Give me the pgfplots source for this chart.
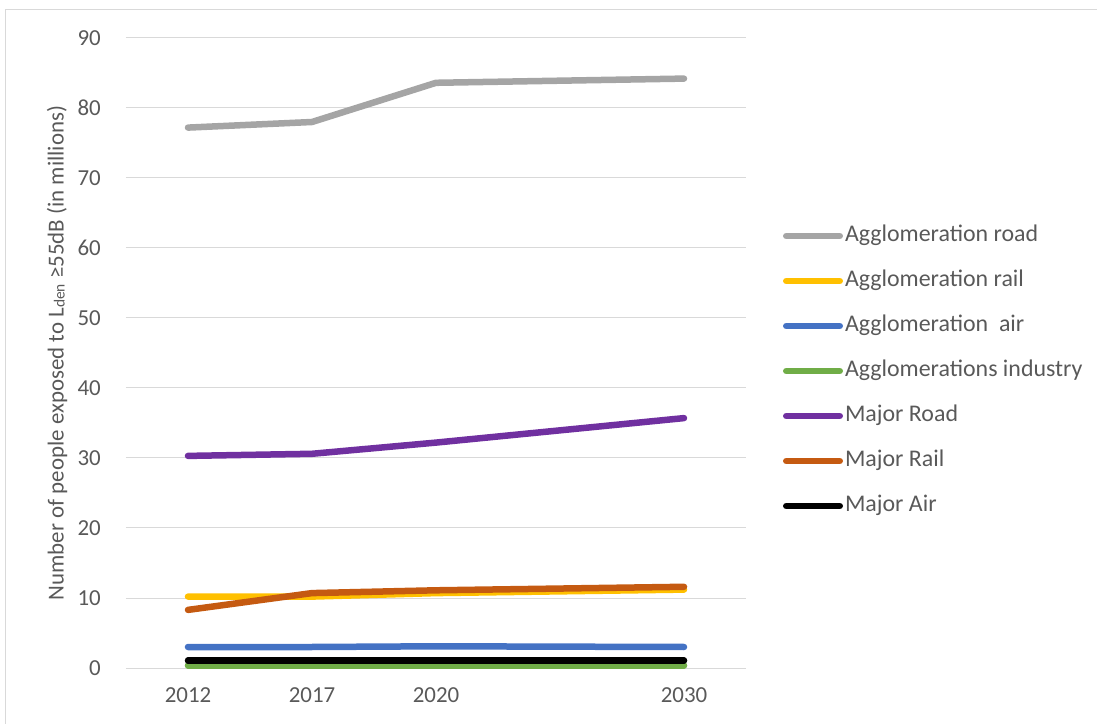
\documentclass[border=0pt]{standalone}
\usepackage{pgfplots}
\pgfplotsset{compat=1.18}
\usepackage{fontspec}
\setmainfont{Carlito}
\definecolor{txt}{HTML}{595959}
\definecolor{gridc}{HTML}{D9D9D9}
\definecolor{cgray}{HTML}{A5A5A5}
\definecolor{cyellow}{HTML}{FFC000}
\definecolor{cblue}{HTML}{4472C4}
\definecolor{cgreen}{HTML}{70AD47}
\definecolor{cpurple}{HTML}{7030A0}
\definecolor{corange}{HTML}{C55A11}
\begin{document}
\begin{tikzpicture}
\useasboundingbox (-126bp,-56bp) rectangle (971bp,668bp);
\draw[gridc, line width=1bp] (-120bp,-60bp) -- (-120bp,658.5bp) -- (975bp,658.5bp);
\begin{axis}[
  scale only axis, width=620bp, height=630bp,
  xmin=-0.5, xmax=4.5, ymin=0, ymax=90,
  xtick={0,1,2,4}, xticklabels={2012,2017,2020,2030},
  ytick distance=10,
  axis line style={draw=none},
  major tick length=0pt,
  xmajorgrids=false, ymajorgrids=true, grid style={draw=gridc, line width=1bp},
  /pgf/number format/assume math mode=true,
  every tick label/.append style={font=\fontsize{23}{26}\selectfont, text=txt},
  yticklabel style={anchor=east, inner sep=0pt, xshift=-25bp},
  xticklabel style={anchor=north, inner sep=0pt, yshift=-19bp},
  every axis y label/.style={at={(rel axis cs:-0.111,0.5)}, rotate=90, anchor=center},
  ylabel={Number of people exposed to L\raisebox{-1bp}{\fontsize{15.5}{15.5}\selectfont den} ≥55dB (in millions)},
  label style={font=\fontsize{23}{26}\selectfont, text=txt},
  legend cell align=left,
  legend style={at={(rel axis cs:1.0597,0.4715)}, anchor=west, draw=none, fill=none,
    inner sep=0pt, outer sep=0pt, row sep=24bp,
    font=\fontsize{24}{26}\selectfont, text=txt,
    nodes={inner sep=0pt, text height=16bp, text depth=5bp},
    /tikz/every odd column/.append style={column sep=2bp}},
  legend image code/.code={\draw[#1, line width=6.5bp, line cap=round] (0bp,0bp) -- (53.5bp,0bp);},
  every axis plot/.append style={line width=6.5bp, line cap=round, line join=round},
  clip=false,
]
\addplot[cgray] coordinates {(0,77.2) (1,78.0) (2,83.6) (4,84.2)};
\addlegendentry{Agglomeration road}
\addplot[cyellow] coordinates {(0,10.2) (1,10.2) (2,10.7) (4,11.2)};
\addlegendentry{Agglomeration rail}
\addplot[cblue] coordinates {(0,3.0) (1,3.0) (2,3.1) (4,3.0)};
\addlegendentry{Agglomeration\ \ air}
\addplot[cgreen] coordinates {(0,0.35) (1,0.35) (2,0.35) (4,0.35)};
\addlegendentry{Agglomerations industry}
\addplot[cpurple] coordinates {(0,30.3) (1,30.6) (2,32.2) (4,35.7)};
\addlegendentry{Major Road}
\addplot[corange] coordinates {(0,8.3) (1,10.7) (2,11.1) (4,11.6)};
\addlegendentry{Major Rail}
\addplot[black] coordinates {(0,1.05) (1,1.05) (2,1.05) (4,1.05)};
\addlegendentry{Major Air}
\end{axis}
\end{tikzpicture}
\end{document}
